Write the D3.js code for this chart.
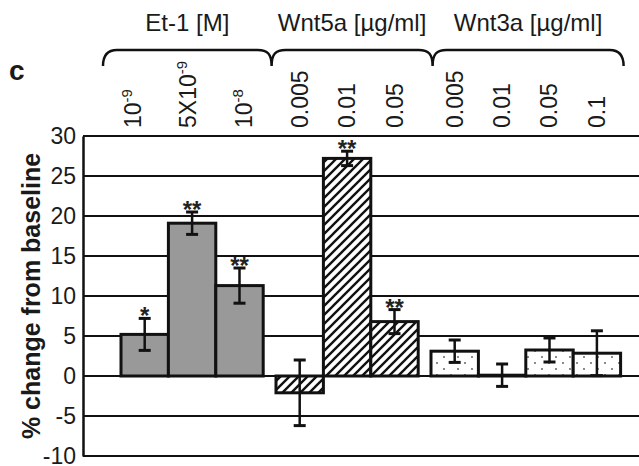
<!DOCTYPE html>
<html>
<head>
<meta charset="utf-8">
<script src="https://cdn.jsdelivr.net/npm/d3@7"></script>
<style>
  body { margin: 0; background: #fff; }
  svg { display: block; font-family: "Liberation Sans", Arial, Helvetica, sans-serif; }
</style>
</head>
<body>
<script>
"use strict";

// data
var groupNames = ["Et-1 [M]", "Wnt5a [µg/ml]", "Wnt3a [µg/ml]"];
var groupOf = [0, 0, 0, 1, 1, 1, 2, 2, 2, 2];
var doseBase = ["10", "5X10", "10", "0.005", "0.01", "0.05", "0.005", "0.01", "0.05", "0.1"];
var doseExp = ["-9", "-9", "-8", "", "", "", "", "", "", ""];
var values = [5.2, 19.1, 11.3, -2.1, 27.2, 6.8, 3.1, 0.1, 3.25, 2.85];
var errors = [2.0, 1.4, 2.2, 4.1, 0.9, 1.5, 1.4, 1.4, 1.5, 2.8];
var stars = ["*", "**", "**", "", "**", "**", "", "", "", ""];
var yTicks = [-10, -5, 0, 5, 10, 15, 20, 25, 30];

function draw_chart() {
    var width = 639;
    var height = 466;
    var plotLeft = 83;
    var plotRight = 639;
    var gapFrac = 0.27;

    var svg = d3.select("body")
        .append("svg")
        .attr("width", width)
        .attr("height", height);

    var defs = svg.append("defs");

    // diagonal hatch for Wnt5a
    var hatch = defs.append("pattern")
        .attr("id", "hatch")
        .attr("patternUnits", "userSpaceOnUse")
        .attr("width", 9)
        .attr("height", 9);
    hatch.append("rect").attr("width", 9).attr("height", 9).attr("fill", "#fff");
    hatch.append("path")
        .attr("d", "M-2,11 L11,-2 M-2,2 L2,-2 M7,11 L11,7")
        .attr("stroke", "#111")
        .attr("stroke-width", 2.4);

    // sparse dots for Wnt3a
    var dots = defs.append("pattern")
        .attr("id", "dots")
        .attr("patternUnits", "userSpaceOnUse")
        .attr("width", 14)
        .attr("height", 12);
    dots.append("rect").attr("width", 14).attr("height", 12).attr("fill", "#fff");
    dots.append("circle").attr("cx", 3).attr("cy", 3).attr("r", 1).attr("fill", "#666");
    dots.append("circle").attr("cx", 10).attr("cy", 9).attr("r", 1).attr("fill", "#666");

    var fills = ["#999999", "url(#hatch)", "url(#dots)"];

    var pos = values.map(function(d, i) { return i + groupOf[i] * gapFrac; });
    var x = d3.scaleLinear()
        .domain([0, values.length + 2 * gapFrac])
        .range([121, 620.6]);
    var bw = x(1) - x(0);

    var y = d3.scaleLinear()
        .domain([-10, 30])
        .range([456, 136]);

    // gridlines
    svg.append("g")
        .selectAll("line")
        .data(yTicks)
        .enter()
        .append("line")
        .attr("x1", plotLeft)
        .attr("x2", plotRight)
        .attr("y1", function(d) { return y(d); })
        .attr("y2", function(d) { return y(d); })
        .attr("stroke", "#111")
        .attr("stroke-width", 2);

    // y axis
    var yAxis = svg.append("g")
        .attr("transform", "translate(" + plotLeft + ",0)")
        .call(d3.axisLeft(y).tickValues(yTicks).tickSize(0).tickPadding(7)
            .tickFormat(function(d) { return String(d); }));
    yAxis.select(".domain")
        .attr("stroke", "#111")
        .attr("stroke-width", 2.5);
    yAxis.selectAll("text")
        .attr("font-size", 23)
        .attr("fill", "#1a1a1a")
        .style("font-family", "'Liberation Sans', Arial, sans-serif");

    // bars
    svg.append("g")
        .selectAll("rect")
        .data(values)
        .enter()
        .append("rect")
        .attr("x", function(d, i) { return x(pos[i]); })
        .attr("width", bw)
        .attr("y", function(d) { return y(Math.max(0, d)); })
        .attr("height", function(d) { return Math.abs(y(d) - y(0)); })
        .attr("fill", function(d, i) { return fills[groupOf[i]]; })
        .attr("stroke", "#111")
        .attr("stroke-width", 3);

    // error bars
    var eb = svg.append("g")
        .selectAll("g")
        .data(values)
        .enter()
        .append("g")
        .attr("stroke", "#111");
    eb.append("line")
        .attr("x1", function(d, i) { return x(pos[i]) + bw / 2; })
        .attr("x2", function(d, i) { return x(pos[i]) + bw / 2; })
        .attr("y1", function(d, i) { return y(d + errors[i]); })
        .attr("y2", function(d, i) { return y(d - errors[i]); })
        .attr("stroke-width", 2.5);
    eb.selectAll("line.cap")
        .data(function(d, i) { return [[i, d + errors[i]], [i, d - errors[i]]]; })
        .enter()
        .append("line")
        .attr("class", "cap")
        .attr("x1", function(d) { return x(pos[d[0]]) + bw / 2 - 6; })
        .attr("x2", function(d) { return x(pos[d[0]]) + bw / 2 + 6; })
        .attr("y1", function(d) { return y(d[1]); })
        .attr("y2", function(d) { return y(d[1]); })
        .attr("stroke-width", 3);

    // significance stars
    svg.append("g")
        .selectAll("text")
        .data(stars)
        .enter()
        .append("text")
        .attr("x", function(d, i) { return x(pos[i]) + bw / 2; })
        .attr("y", function(d, i) { return y(values[i] + errors[i]) + 6; })
        .attr("text-anchor", "middle")
        .attr("font-size", 24)
        .attr("font-weight", "bold")
        .attr("fill", "#222")
        .text(function(d) { return d; });

    // rotated dose labels (the Et-1 ones sit a little spread out in the figure)
    var lab = svg.append("g")
        .selectAll("text")
        .data(doseBase)
        .enter()
        .append("text")
        .attr("transform", function(d, i) {
            var shift = groupOf[i] === 0 ? (i - 1) * 8 - 4 : 0;
            return "translate(" + (x(pos[i]) + bw / 2 + 8 + shift) + ",128)rotate(-90)";
        })
        .attr("font-size", 23)
        .attr("fill", "#1a1a1a");
    lab.append("tspan")
        .text(function(d) { return d; });
    lab.append("tspan")
        .attr("dy", -9)
        .attr("font-size", 15)
        .text(function(d, i) { return doseExp[i]; });

    // group braces
    var gStart = [], gEnd = [];
    groupNames.forEach(function(g, k) {
        var idx = groupOf.map(function(v, i) { return v === k ? i : -1; })
            .filter(function(i) { return i >= 0; });
        gStart.push(x(pos[idx[0]]));
        gEnd.push(x(pos[idx[idx.length - 1]]) + bw);
    });
    var edges = [gStart[0] - 18];
    for (var k = 1; k < groupNames.length; k++) {
        edges.push((gEnd[k - 1] + gStart[k]) / 2 + 2 + (k - 1) * 6);
    }
    edges.push(gEnd[groupNames.length - 1] + 3);

    var top = 50, low = 66;
    var bracePath = d3.path();
    // left outer curl
    bracePath.moveTo(edges[0], low);
    bracePath.quadraticCurveTo(edges[0], top, edges[0] + 14, top);
    for (var j = 1; j < edges.length - 1; j++) {
        bracePath.lineTo(edges[j] - 14, top);
        bracePath.bezierCurveTo(edges[j] - 4, top, edges[j], top + 4, edges[j], low);
        bracePath.moveTo(edges[j], low);
        bracePath.bezierCurveTo(edges[j], top + 4, edges[j] + 4, top, edges[j] + 14, top);
    }
    var last = edges[edges.length - 1];
    bracePath.lineTo(last - 14, top);
    bracePath.quadraticCurveTo(last, top, last, low);
    svg.append("path")
        .attr("d", bracePath.toString())
        .attr("fill", "none")
        .attr("stroke", "#111")
        .attr("stroke-width", 2.5);

    // group titles
    svg.append("g")
        .selectAll("text")
        .data(groupNames)
        .enter()
        .append("text")
        .attr("x", function(d, i) { return (edges[i] + edges[i + 1]) / 2; })
        .attr("y", 31)
        .attr("text-anchor", "middle")
        .attr("font-size", 24)
        .attr("fill", "#1a1a1a")
        .text(function(d) { return d; });

    // y title
    svg.append("text")
        .attr("transform", "translate(40," + y(10) + ")rotate(-90)")
        .attr("text-anchor", "middle")
        .attr("font-size", 25)
        .attr("font-weight", "bold")
        .attr("fill", "#1a1a1a")
        .text("% change from baseline");

    // panel letter
    svg.append("text")
        .attr("x", 9)
        .attr("y", 80)
        .attr("font-size", 28)
        .attr("font-weight", "bold")
        .attr("fill", "#1a1a1a")
        .text("c");
}

// run
draw_chart();
</script>
</body>
</html>
